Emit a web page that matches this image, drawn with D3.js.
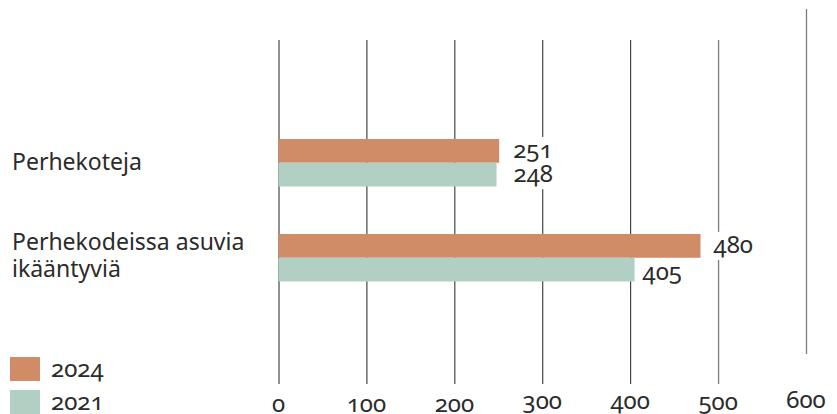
<!DOCTYPE html>
<html>
<head>
<meta charset="utf-8">
<script src="https://cdn.jsdelivr.net/npm/d3@7"></script>
<style>
  html, body { margin: 0; padding: 0; background: #fff; }
  svg { display: block; font-family: "Noto Sans", "Open Sans", sans-serif; }
  .num { font-variant-numeric: oldstyle-nums; font-feature-settings: "onum" 1; }
</style>
</head>
<body>
<svg id="chart" width="837" height="414"></svg>
<script>
// Categories (label lines) and the two yearly series
const categories = [["Perhekoteja"], ["Perhekodeissa asuvia", "ikääntyviä"]];
const seriesNames = ["2024", "2021"];
const values2024 = [251, 480];
const values2021 = [248, 405];
const tickValues = [0, 100, 200, 300, 400, 500, 600];
const colors = ["#d08b67", "#b2cfc3"];

const svg = d3.select("#chart");
const textColor = "#2b2b2b";
const numSize = 24;
const catSize = 23;

const x = d3.scaleLinear().domain([0, 600]).range([278.5, 806]);

// Category bands; each band holds a pair of bars
const y = d3.scaleBand().domain(d3.range(categories.length)).range([115, 305]);
const yBar = d3.scaleBand().domain(seriesNames).range([0, 47.5]);
const bandTop = 24;

// Vertical gridlines from the axis ticks
const grid = svg.append("g")
  .attr("transform", "translate(0,384)")
  .call(d3.axisBottom(x).tickValues(tickValues).tickSize(-344).tickFormat(""));
grid.select(".domain").remove();
grid.selectAll(".tick line")
  .attr("stroke", (d, i) => i >= 5 ? "#7d7d7d" : "#222")
  .attr("stroke-width", (d, i) => i >= 5 ? 1.3 : 1);
// The outermost line sits higher than the rest
grid.selectAll(".tick").filter(d => d === 600).select("line")
  .attr("y1", -30).attr("y2", -375);

// Tick labels
const tickBaseline = { 0: 411.5, 100: 411.5, 200: 411.5, 300: 409, 400: 409, 500: 410, 600: 408 };
svg.append("g").selectAll("text")
  .data(tickValues).join("text")
  .attr("class", "num")
  .attr("x", d => x(d))
  .attr("y", d => tickBaseline[d])
  .attr("text-anchor", "middle")
  .attr("font-size", numSize)
  .attr("fill", textColor)
  .text(d => d);

// Bars
const rows = categories.map((c, i) => ({ i, vals: [values2024[i], values2021[i]] }));
const groups = svg.append("g").selectAll("g")
  .data(rows).join("g")
  .attr("transform", d => `translate(0,${y(d.i) + bandTop})`);

groups.selectAll("rect")
  .data(d => d.vals.map((v, k) => ({ v, k })))
  .join("rect")
  .attr("x", x(0))
  .attr("y", d => yBar(seriesNames[d.k]))
  .attr("width", d => x(d.v) - x(0))
  .attr("height", yBar.bandwidth())
  .attr("fill", d => colors[d.k]);

// Value labels on white boxes that interrupt the gridlines
const labelGap = [[14, 17], [13, 8]];
const labelDrop = [[7, 7.5], [7, 10]];
const labelLayer = svg.append("g");
const labels = [];
rows.forEach(r => r.vals.forEach((v, k) => labels.push({
  v, lx: x(v) + labelGap[r.i][k],
  ly: y(r.i) + bandTop + yBar(seriesNames[k]) + yBar.bandwidth() / 2 + labelDrop[r.i][k]
})));
const boxes = labelLayer.append("g");
const texts = labelLayer.append("g").selectAll("text")
  .data(labels).join("text")
  .attr("class", "num")
  .attr("x", d => d.lx)
  .attr("y", d => d.ly)
  .attr("font-size", numSize)
  .attr("fill", textColor)
  .text(d => d.v);
texts.each(function (d) { d.w = this.getComputedTextLength(); });
boxes.selectAll("rect")
  .data(labels).join("rect")
  .attr("x", d => d.lx - 4)
  .attr("y", d => d.ly - 21)
  .attr("width", d => d.w + 8)
  .attr("height", 28)
  .attr("fill", "#fff");

// Category labels
const catLabels = svg.append("g").selectAll("text")
  .data(rows).join("text")
  .attr("x", 12)
  .attr("y", d => y(d.i) + bandTop + (categories[d.i].length === 1 ? 31 : 16))
  .attr("font-size", catSize)
  .attr("fill", textColor);
catLabels.selectAll("tspan")
  .data(d => categories[d.i])
  .join("tspan")
  .attr("x", 12)
  .attr("dy", (d, j) => j === 0 ? 0 : 26.5)
  .text(d => d);

// Legend
const legend = svg.append("g").selectAll("g")
  .data(seriesNames).join("g")
  .attr("transform", (d, i) => `translate(10,${357 + i * 33})`);
legend.append("rect")
  .attr("width", 30).attr("height", 24)
  .attr("fill", (d, i) => colors[i]);
legend.append("text")
  .attr("class", "num")
  .attr("x", 41).attr("y", 19.7)
  .attr("font-size", numSize)
  .attr("fill", textColor)
  .text(d => d);
</script>
</body>
</html>
